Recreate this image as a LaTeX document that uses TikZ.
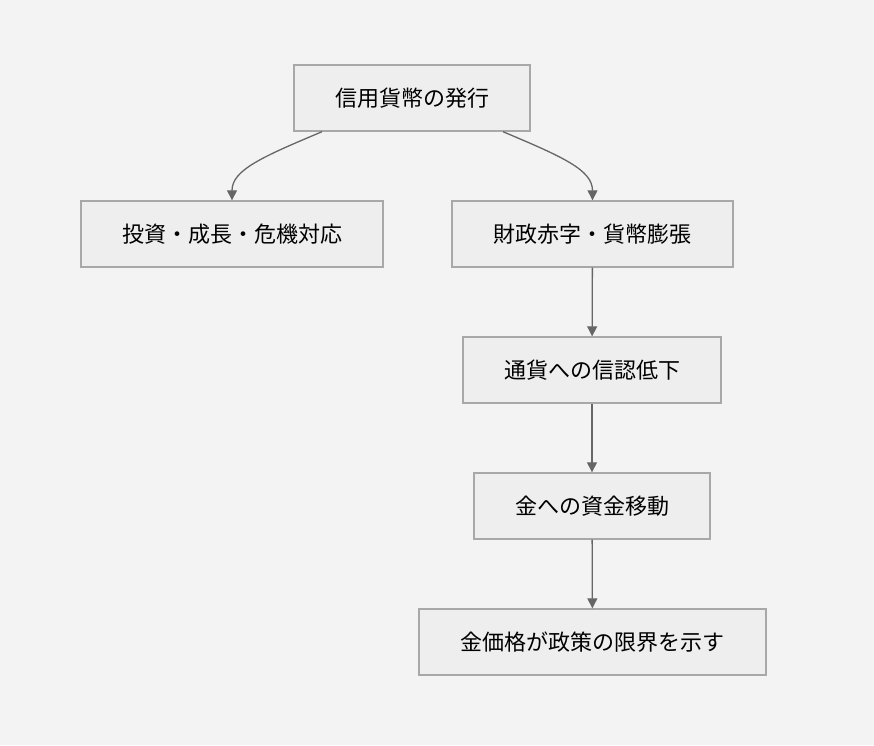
\documentclass[tikz,border=0pt]{standalone}
\usepackage{fontspec}
\setmainfont{Noto Sans CJK JP}
\usetikzlibrary{arrows.meta}
\definecolor{bgcol}{HTML}{F3F3F3}
\definecolor{boxfill}{HTML}{EEEEEE}
\definecolor{boxline}{HTML}{A8A8A8}
\definecolor{arrcol}{HTML}{666666}
\tikzset{
  flowbox/.style={draw=boxline, fill=boxfill, line width=1.4pt, minimum height=66pt,
    inner sep=0pt, font=\fontsize{22}{25}\selectfont, text=black},
  flowarrow/.style={draw=arrcol, line width=1.3pt, -{Triangle[length=10pt,width=10pt]}}
}
\begin{document}
\begin{tikzpicture}[x=1pt,y=-1pt]
      \fill[bgcol] (0,0) rectangle (874,745);
      \useasboundingbox (0,0) rectangle (874,745);
      \draw
        (412,98) node[flowbox, minimum width=236pt] (issue){信用貨幣の発行}
        (232,234) node[flowbox, minimum width=302pt] (invest){投資・成長・危機対応}
        (592.5,234) node[flowbox, minimum width=281pt] (deficit){財政赤字・貨幣膨張}
        (592,370) node[flowbox, minimum width=258pt] (trust){通貨への信認低下}
        (592,506) node[flowbox, minimum width=236pt] (gold){金への資金移動}
        (592.5,642) node[flowbox, minimum width=347pt] (limit){金価格が政策の限界を示す};
      \begin{scope}[flowarrow]
        \draw ([xshift=-90pt]issue.south) .. controls (262,157) and (232,170) .. (invest.north);
        \draw ([xshift=91pt]issue.south) .. controls (563,157) and (592.5,170) .. (deficit.north);
        \draw (deficit) to (trust);
        \draw (trust) to (gold);
        \draw (gold) to (limit);
      \end{scope}
    \end{tikzpicture}
\end{document}
